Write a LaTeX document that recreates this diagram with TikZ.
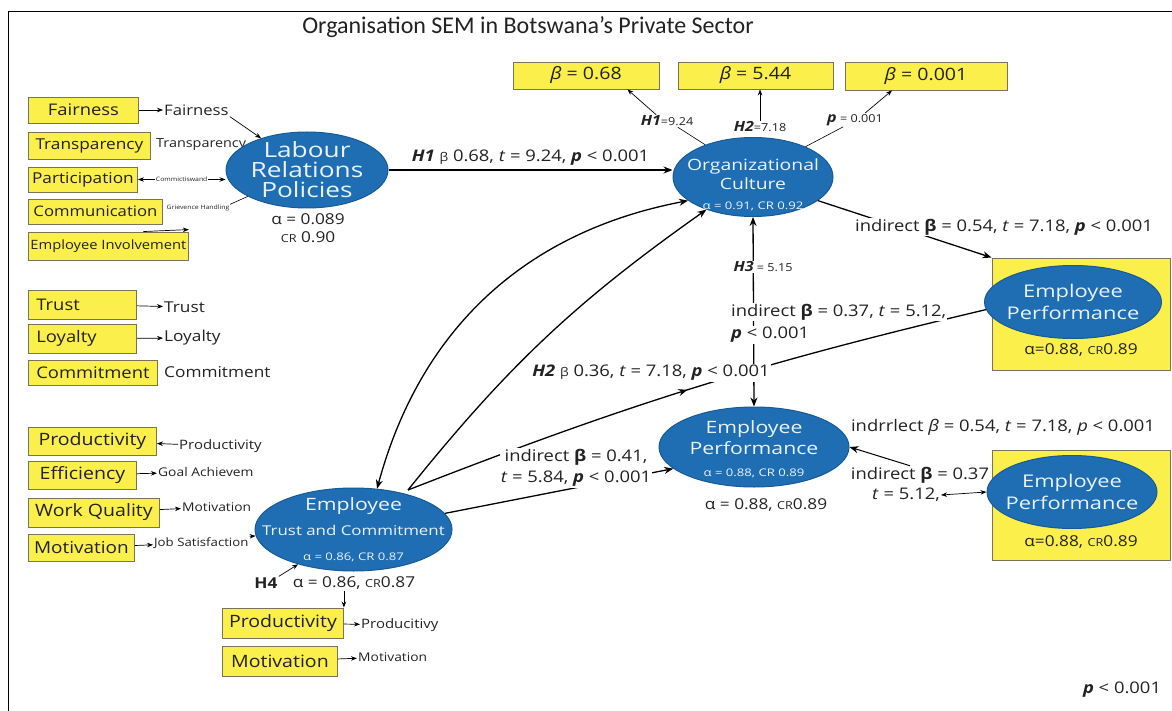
\documentclass[tikz,border=0pt]{standalone}
\usepackage{fontspec}
\setmainfont{Open Sans}[FakeStretch=1.15]
\newfontfamily\titlefont{Carlito}
\newfontfamily\wideopen{Open Sans}[FakeStretch=1.25]
\usepackage{tikz}
\usetikzlibrary{shapes.geometric, arrows.meta, decorations.markings}

\definecolor{semblue}{HTML}{1F6EB4}
\definecolor{semblueedge}{HTML}{175A95}
\definecolor{semtext}{HTML}{EAF2FB}
\definecolor{semyellow}{HTML}{FBEF4B}
\definecolor{boxedge}{HTML}{77745A}
\definecolor{ink}{HTML}{222222}

\newcommand{\fsz}[1]{\fontsize{#1}{#1}\selectfont}
\newcommand{\crsc}[1]{{\fsz{#1}CR}}
\newcommand{\bp}{\textbf{\textit{p}}}

\begin{document}
\begin{tikzpicture}[x=1pt, y=-1pt, >={Stealth[length=9pt,width=7pt]}, every node/.style={text=ink}]
    \tikzstyle{latent} = [ellipse, draw=semblueedge, line width=1pt, fill=semblue, text=semtext, inner sep=-30pt, align=center]
    \tikzstyle{item} = [rectangle, draw=boxedge, line width=0.9pt, fill=semyellow, inner sep=2pt, font=\fsz{16}]
    \tikzstyle{side} = [inner sep=1pt, font=\fsz{13}]
    \tikzstyle{tiny} = [inner sep=0.5pt, font=\fsz{6}]
    \tikzstyle{stat} = [inner sep=1pt, align=center, font=\fontsize{16}{21}\selectfont]
    \tikzstyle{link} = [line width=1.3pt]
    \tikzstyle{feed} = [->, line width=0.7pt, >={Stealth[length=6pt,width=4.5pt]}]
    \tikzstyle{hair} = [line width=0.6pt]

    \useasboundingbox (0,0) rectangle (1172,711);
    \draw[line width=1pt] (8,711) -- (8,12) -- (1172,12);
    \node[font=\titlefont\fsz{24}] (title) at (528,27) {Organisation SEM in Botswana’s Private Sector};

    % Labour relations indicators
    \node[item, anchor=west, minimum width=110pt, minimum height=26pt] (fair) at (28,110) {Fairness};
    \node[item, anchor=west, minimum width=122pt, minimum height=27pt, font=\fsz{15}] (transp) at (28,145.5) {Transparency};
    \node[item, anchor=west, minimum width=109pt, minimum height=25pt, font=\fsz{15}] (part) at (28,179.5) {Participation};
    \node[item, anchor=west, minimum width=134pt, minimum height=25pt, font=\fsz{14.5}] (comm) at (28,211.5) {Communication};
    \node[item, anchor=west, minimum width=160pt, minimum height=28pt, font=\fsz{12.8}] (empinv) at (28,246) {Employee Involvement};

    \node[side, anchor=west, font=\fsz{14.5}] (fairT) at (163,110) {Fairness};
    \node[side, anchor=west, font=\fsz{12.5}] (transpT) at (155,145) {Transparency};
    \node[tiny, anchor=west] (grievT) at (166,208) {Grievence Handling};

    % Trust indicators
    \node[item, anchor=west, minimum width=108pt, minimum height=29pt, text width=92pt, align=left] (trust) at (28,304.5) {Trust};
    \node[item, anchor=west, minimum width=108pt, minimum height=29pt, text width=92pt, align=left] (loyal) at (28,338.5) {Loyalty};
    \node[item, anchor=west, minimum width=129pt, minimum height=25pt] (commit) at (28,372.5) {Commitment};

    \node[side, anchor=west, font=\fsz{15}] (trustT) at (163,307) {Trust};
    \node[side, anchor=west, font=\fsz{15}] (loyalT) at (163,338) {Loyalty};
    \node[side, anchor=west, font=\fsz{15}] (commitT) at (163,372) {Commitment};

    % Performance indicators
    \node[item, anchor=west, minimum width=128pt, minimum height=28pt, font=\fsz{17}] (prod) at (28,441) {Productivity};
    \node[item, anchor=west, minimum width=108pt, minimum height=28pt, font=\fsz{17}] (eff) at (28,475) {Efficiency};
    \node[item, anchor=west, minimum width=131pt, minimum height=29pt, font=\fsz{17}] (wq) at (28,512.5) {Work Quality};
    \node[item, anchor=west, minimum width=106pt, minimum height=27pt, font=\fsz{16.5}] (mot) at (28,547.5) {Motivation};
    \node[item, anchor=west, minimum width=121pt, minimum height=30pt, font=\fsz{17}] (prod2) at (222,623) {Productivity};
    \node[item, anchor=west, minimum width=115pt, minimum height=30pt, font=\fsz{17}] (mot2) at (222,661) {Motivation};

    \node[side, anchor=west] (prodT) at (178,446) {Productivity};
    \node[side, anchor=west, font=\fsz{12}] (effT) at (157,472) {Goal Achievem};
    \node[side, anchor=west, font=\fsz{12}] (wqT) at (181,507) {Motivation};
    \node[side, anchor=west, font=\fsz{11.5}] (motT) at (153,543) {Job Satisfaction};
    \node[side, anchor=west] (prod2T) at (360,625) {Producitivy};
    \node[side, anchor=west, font=\fsz{12}] (mot2T) at (357,657) {Motivation};

    % Constructs
    \node[latent, minimum width=162pt, minimum height=76pt, font=\wideopen\fontsize{21}{20}\selectfont] (lrp) at (307,170) {Labour\\Relations\\Policies};
    \node[stat, font=\fontsize{15}{18}\selectfont] (lrpfit) at (308,228) {α = 0.089\\\crsc{11} 0.90};
    \node[latent, minimum width=160pt, minimum height=79pt, font=\wideopen\fontsize{15.5}{19}\selectfont] (oc) at (753,177) {\rule{0pt}{28pt}Organizational\\Culture\\[1pt]{\fsz{10.5}α = 0.91, CR 0.92}};
    \node[latent, minimum width=197pt, minimum height=83pt, font=\wideopen\fontsize{17}{25}\selectfont] (etc) at (353.5,529.5) {Employee\\{\fontsize{13.5}{25}\selectfont Trust and Commitment}\\{\fontsize{10.5}{25}\selectfont α = 0.86, CR 0.87}};
    \node[stat, font=\fsz{15}] (etcfit) at (354,583) {α = 0.86, \crsc{11}0.87};
    \node[stat, font=\bfseries\fsz{15}] (h4) at (266,583) {H4};
    \node[latent, minimum width=190pt, minimum height=80pt, font=\wideopen\fontsize{17}{21}\selectfont] (epm) at (754,447) {\rule{0pt}{18pt}Employee\\Performance\\[1pt]{\fsz{10.5}α = 0.88, CR 0.89}};
    \node[stat, font=\fsz{15}] (epmfit) at (766,505) {α = 0.88, \crsc{11}0.89};

    % Outcome panels
    \node[item, minimum width=178pt, minimum height=112pt] (eppanel1) at (1081,314) {};
    \node[latent, minimum width=177pt, minimum height=73pt, font=\wideopen\fontsize{17.5}{22}\selectfont] (epr1) at (1073,302) {Employee\\Performance};
    \node[stat, font=\fsz{15}] (epr1fit) at (1081,350) {α=0.88, \crsc{11}0.89};
    \node[item, minimum width=178pt, minimum height=110pt] (eppanel2) at (1081,505) {};
    \node[latent, minimum width=170pt, minimum height=73pt, font=\wideopen\fontsize{17.5}{22}\selectfont] (epr2) at (1072,492) {Employee\\Performance};
    \node[stat, font=\fsz{15}] (epr2fit) at (1081,542) {α=0.88, \crsc{11}0.89};

    % Estimates
    \node[item, minimum width=146pt, minimum height=27pt, font=\fsz{17}] (b1) at (586,75.5) {\textit{β} = 0.68};
    \node[item, minimum width=155pt, minimum height=27pt, font=\fsz{17}] (b2) at (755.5,75.5) {\textit{β} = 5.44};
    \node[item, minimum width=162pt, minimum height=28pt, font=\fsz{17}] (b3) at (926,76) {\textit{β} = 0.001};
    \node[stat, font=\fsz{14}] (h1t) at (667,121) {\textbf{\textit{H1}}{\fsz{11}=9.24}};
    \node[stat, font=\fsz{14}] (h2t) at (760,127) {\textbf{\textit{H2}}{\fsz{11}=7.18}};
    \node[stat, font=\fsz{14}] (pt) at (855,120) {\bp{\fsz{11} = 0.001}};
    \node[stat] (ind37c) at (920,475) {indirect \textbf{β} = 0.37};
    \node[stat] (ind37t) at (906,495) {\textit{t} = 5.12,};
    \node[stat] (ind54b) at (1003,427) {indrrlect \textit{β} = 0.54, \textit{t} = 7.18, \textit{p} < 0.001};
    \node[stat] (pfoot) at (1122,690) {\bp{} < 0.001};
    \coordinate (hub) at (408,490);

    % Indicator links
    \draw[feed] (fair) -- (fairT);
    \draw[feed] (fairT.south east) -- (lrp);
    \draw[feed, <->] (part.east) -- node[tiny, fill=white] {Commictiswand} (part.east -| lrp.west);
    \draw[hair] (grievT.north east) -- (lrp);
    \draw[feed] ([xshift=35pt]empinv.north) -- ([yshift=2pt]empinv.north east);
    \draw[feed] (trust) -- (trustT);
    \draw[feed] (loyal) -- (loyalT);
    \draw[feed] (prodT) -- (prod);
    \draw[feed] (eff) -- (effT);
    \draw[feed] (wq) -- (wqT);
    \draw[feed] (mot) -- (motT);
    \draw[feed] (motT.north east) -- (etc);
    \draw[feed] (h4.north east) -- (etc);
    \draw[feed] (etcfit.south -| prod2.north east) -- (prod2.north east);
    \draw[feed] (prod2) -- (prod2T);
    \draw[feed] (mot2) -- (mot2T);

    % Estimate callouts
    \draw[hair] (oc.146) -- (h1t.-30);
    \draw[feed] (h1t.150) -- ([xshift=-32pt]b1.south east);
    \draw[feed] (h2t.north) -- (h2t.north |- b2.south);
    \draw[hair] (oc.30) -- (pt.210);
    \draw[feed] ([xshift=10pt]pt.north) -- ([xshift=-34pt]b3.south);

    % Structural paths
    \draw[link, ->] (lrp.east) -- node[midway, above=3pt, stat] {\textbf{\textit{H1}} {\fsz{12}β} 0.68, \textit{t} = 9.24, \bp{} < 0.001} (oc.west |- lrp.east);
    \draw[link, <->] (etc.60) to[bend left=32] (oc.200);
    \draw[link, ->] (hub) to[bend left=8] (oc.215);
    \draw[link, postaction={decorate}, decoration={markings, mark=at position 0.49 with {\arrow{>}}}] (hub) to[bend left=4] (epr1.185);
    \draw[link, ->] (etc.10) -- (epm.195);
    \draw[link, <->] (epm.north) -- (oc.south);
    \draw[link, ->] (oc.340) -- (eppanel1.north west);
    \draw[link, ->, line width=1pt] ([xshift=-10pt]ind37c.north) -- (epm.east);
    \draw[feed, <->] (ind37t.east) -- (epr2.west);

    % Path labels
    \node[stat, fill=white] (h2lab) at (651,373) {\textbf{\textit{H2}} {\fsz{12}β} 0.36, \textit{t} = 7.18, \bp{} < 0.001};
    \node[stat, fill=white] (ind41) at (576,468) {indirect \textbf{β} = 0.41,\\\textit{t} = 5.84, \bp{} < 0.001};
    \node[stat, fill=white, font=\fsz{14}] (h3lab) at (763,267) {\textbf{\textit{H3}}{\fsz{11} = 5.15}};
    \node[stat, fill=white, anchor=west] (ind37a) at (730,312) {indirect \textbf{β} = 0.37, \textit{t} = 5.12,};
    \node[stat, fill=white, anchor=west] (ind37b) at (730,335) {\bp{} < 0.001};
    \node[stat, fill=white] (ind54a) at (1004,227) {indirect \textbf{β} = 0.54, \textit{t} = 7.18, \bp{} < 0.001};
\end{tikzpicture}
\end{document}
